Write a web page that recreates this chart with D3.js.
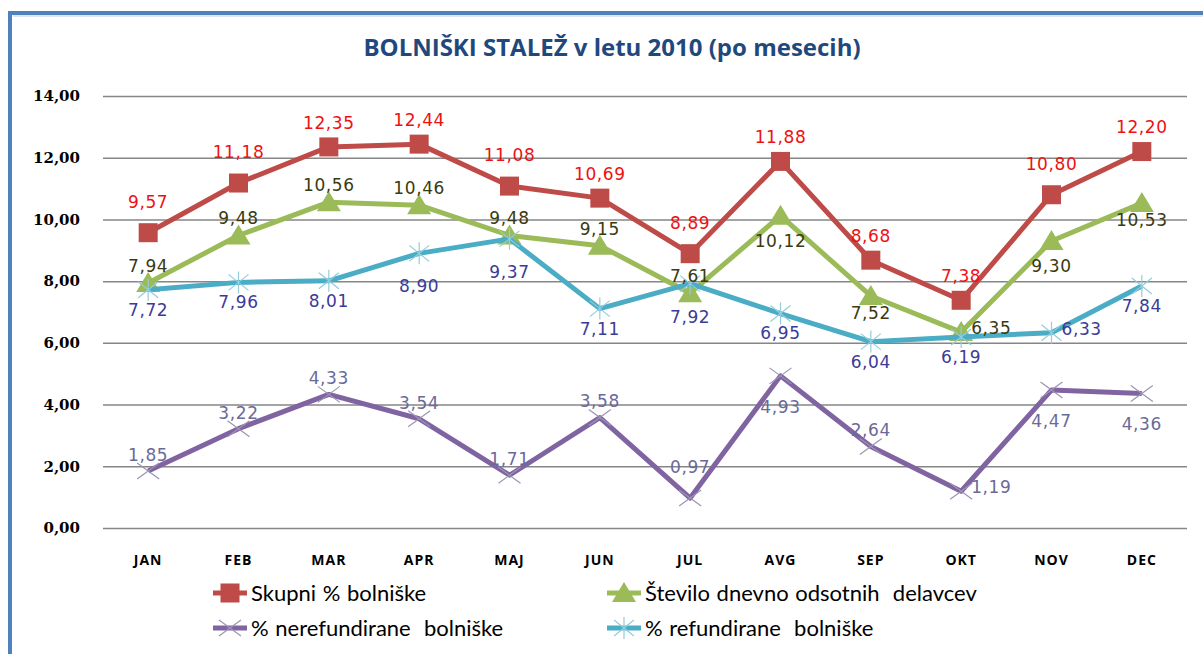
<!DOCTYPE html>
<html>
<head>
<meta charset="utf-8">
<script src="https://cdn.jsdelivr.net/npm/d3@7"></script>
<style>
  body { margin: 0; background: #ffffff; }
  svg { display: block; }
</style>
</head>
<body>
<svg id="mainSvg"></svg>
<script>
// data
const months = ['JAN', 'FEB', 'MAR', 'APR', 'MAJ', 'JUN', 'JUL', 'AVG', 'SEP', 'OKT', 'NOV', 'DEC'];
const skupni = [9.57, 11.18, 12.35, 12.44, 11.08, 10.69, 8.89, 11.88, 8.68, 7.38, 10.80, 12.20];
const stevilo = [7.94, 9.48, 10.56, 10.46, 9.48, 9.15, 7.61, 10.12, 7.52, 6.35, 9.30, 10.53];
const nerefundirane = [1.85, 3.22, 4.33, 3.54, 1.71, 3.58, 0.97, 4.93, 2.64, 1.19, 4.47, 4.36];
const refundirane = [7.72, 7.96, 8.01, 8.90, 9.37, 7.11, 7.92, 6.95, 6.04, 6.19, 6.33, 7.84];
const yTicks = [0, 2, 4, 6, 8, 10, 12, 14];
const seriesNames = ['Skupni % bolniške', 'Število dnevno odsotnih  delavcev', '% nerefundirane  bolniške', '% refundirane  bolniške'];

// where each data label sits: a = above, A = further above, b = below, B = further below, r = right
const posSkupni = ['A', 'A', 'a', 'a', 'A', 'a', 'A', 'a', 'a', 'a', 'A', 'a'];
const posStevilo = ['a', 'a', 'a', 'a', 'a', 'a', 'a', 'B', 'b', 'r', 'B', 'b'];
const posNeref = ['a', 'a', 'a', 'a', 'a', 'a', 'A', 'B', 'a', 'r', 'B', 'B'];
const posRef = ['b', 'b', 'b', 'B', 'B', 'b', 'B', 'b', 'b', 'b', 'r', 'b'];

const [w, h] = [1203, 654];
const svg = d3.select('#mainSvg').attr('width', w).attr('height', h);

// frame
svg.append('rect').attr('x', 10).attr('y', 13).attr('width', w).attr('height', h).attr('fill', 'none').attr('stroke', '#4f81bd').attr('stroke-width', 4);
svg.append('line').attr('x1', 13).attr('x2', w).attr('y1', 16).attr('y2', 16).attr('stroke', '#b8cce4').attr('stroke-width', 1);

svg.append('text').attr('x', 612).attr('y', 56).attr('text-anchor', 'middle')
  .style('font-family', '"Open Sans", sans-serif').style('font-weight', 'bold').style('font-size', '24px')
  .attr('fill', '#1f497d').text('BOLNIŠKI STALEŽ v letu 2010 (po mesecih)');

const xScale = d3.scaleBand().domain(months).range([103, 1187]);
const yScale = d3.scaleLinear().domain([0, 14]).range([528, 96]);
const cx = (m) => xScale(m) + xScale.bandwidth() / 2;

// grid + y axis
const yAxis = d3.axisLeft(yScale).tickValues(yTicks).tickSize(-(1187 - 103)).tickPadding(23)
  .tickFormat((d) => d3.format('.2f')(d).replace('.', ','));
const gy = svg.append('g').attr('transform', 'translate(103,0)').call(yAxis);
gy.select('.domain').remove();
gy.selectAll('line').attr('stroke', '#868686').attr('stroke-width', 1.5);
gy.selectAll('text').attr('fill', '#000').style('font-family', '"DejaVu Serif", serif').style('font-weight', 'bold').style('font-size', '15px');

// month labels
const xAxis = d3.axisBottom(xScale).tickSize(0).tickPadding(27);
const gx = svg.append('g').attr('transform', 'translate(0,528)').call(xAxis);
gx.select('.domain').remove();
gx.selectAll('text').attr('fill', '#000').style('font-family', '"Open Sans", sans-serif').style('font-weight', 'bold')
  .style('font-size', '14px').style('letter-spacing', '1px');

// markers
const marker = (g, type, color) => {
  if (type === 'square') {
    g.append('rect').attr('x', -9.5).attr('y', -9.5).attr('width', 19).attr('height', 19).attr('fill', color);
  } else if (type === 'triangle') {
    g.append('path').attr('d', 'M0,-11L12,9L-12,9Z').attr('fill', color);
  } else if (type === 'x') {
    g.append('path').attr('d', 'M-11,-8L11,8M-11,8L11,-8').attr('stroke', color).attr('stroke-width', 1.2).attr('fill', 'none');
  } else {
    g.append('path').attr('d', 'M-10,-8L10,8M-10,8L10,-8M0,-11L0,11').attr('stroke', color).attr('stroke-width', 1.2).attr('fill', 'none');
  }
};

const series = [
  { values: skupni, pos: posSkupni, color: '#be4b48', labelColor: '#ee1111', type: 'square', near: 24, far: 31 },
  { values: stevilo, pos: posStevilo, color: '#9bbb59', labelColor: '#3a3a10', type: 'triangle', near: 17, far: 25 },
  { values: refundirane, pos: posRef, color: '#4bacc6', labelColor: '#3b3b98', type: 'star', near: 20, far: 33, markColor: '#92cddc' },
  { values: nerefundirane, pos: posNeref, color: '#8064a2', labelColor: '#6a6a9a', type: 'x', near: 16, far: 31, markColor: '#9c94b4' }
];

const line = d3.line().x((d) => cx(d.m)).y((d) => yScale(d.v));
const fmt = (v) => d3.format('.2f')(v).replace('.', ',');

const drawSeries = (s) => {
  const pts = s.values.map((v, i) => ({ m: months[i], v: v, p: s.pos[i] }));
  svg.append('path').datum(pts).attr('d', line).attr('fill', 'none').attr('stroke', s.color)
    .attr('stroke-width', 5).attr('stroke-linejoin', 'round');
  svg.selectAll(null).data(pts).enter().append('g')
    .attr('transform', (d) => `translate(${cx(d.m)},${yScale(d.v)})`)
    .each(function () { marker(d3.select(this), s.type, s.markColor || s.color); });
  return pts;
};

const labelDy = (s, p) => ({ a: -s.near, A: -s.far, b: s.near, B: s.far, r: -4 })[p];

const drawLabels = (s, pts) => {
  svg.selectAll(null).data(pts).enter().append('text')
    .attr('x', (d) => d.p === 'r' ? cx(d.m) + 10 : cx(d.m))
    .attr('y', (d) => yScale(d.v) + labelDy(s, d.p))
    .attr('dy', '0.35em')
    .attr('text-anchor', (d) => d.p === 'r' ? 'start' : 'middle')
    .style('font-family', '"DejaVu Sans", sans-serif').style('font-size', '17px').style('letter-spacing', '0.6px')
    .attr('fill', s.labelColor).text((d) => fmt(d.v));
};

const allPts = series.map(drawSeries);
series.forEach((s, i) => drawLabels(s, allPts[i]));

// legend
const legendItems = [
  { name: seriesNames[0], s: series[0], x: 213, y: 593 },
  { name: seriesNames[1], s: series[1], x: 607, y: 593 },
  { name: seriesNames[2], s: series[3], x: 213, y: 628 },
  { name: seriesNames[3], s: series[2], x: 607, y: 628 }
];
const lg = svg.selectAll('.legend').data(legendItems).enter().append('g').attr('class', 'legend')
  .attr('transform', (d) => `translate(${d.x},${d.y})`);
lg.append('line').attr('x1', 0).attr('x2', 34).attr('stroke', (d) => d.s.color).attr('stroke-width', 5);
lg.append('g').attr('transform', 'translate(17,0)').each(function (d) { marker(d3.select(this), d.s.type, d.s.markColor || d.s.color); });
lg.append('text').attr('x', 38).attr('dy', '0.35em').style('white-space', 'pre')
  .style('font-family', 'Lato, sans-serif').style('font-size', '22px').style('word-spacing', '1px').attr('fill', '#000')
  .text((d) => d.name);
</script>
</body>
</html>
